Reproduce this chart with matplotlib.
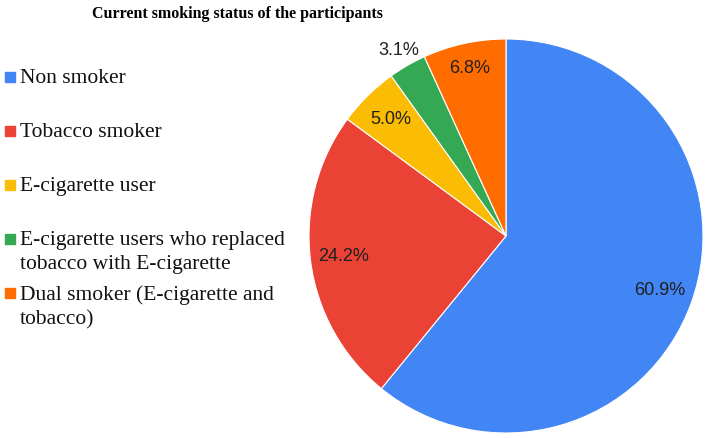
import matplotlib
matplotlib.use("Agg")
import matplotlib.pyplot as plt
import numpy as np
from matplotlib.patches import Rectangle

categories = [
    "Non smoker",
    "Tobacco smoker",
    "E-cigarette user",
    "E-cigarette users who replaced\ntobacco with E-cigarette",
    "Dual smoker (E-cigarette and\ntobacco)",
]
values = [60.9, 24.2, 5.0, 3.1, 6.8]
colors = ["#4285F4", "#EA4335", "#FBBC04", "#34A853", "#FF6D01"]
title = "Current smoking status of the participants"

W, H = 708, 438
fig = plt.figure(figsize=(W / 100, H / 100), dpi=100)

# pie axes: centre (506, 236) px, radius 197 px
cx, cy, r = 506, 236, 197
ax = fig.add_axes([(cx - r) / W, (H - cy - r) / H, 2 * r / W, 2 * r / H])
wedges, _ = ax.pie(values, colors=colors, startangle=90, counterclock=False,
                   radius=1.0, wedgeprops=dict(edgecolor="white", linewidth=0.8))
ax.set_xlim(-1, 1)
ax.set_ylim(-1, 1)
ax.set_aspect("equal")
ax.axis("off")

# percentage labels
for w, v in zip(wedges, values):
    mid = np.deg2rad((w.theta1 + w.theta2) / 2)
    if v < 4:
        d = 1.09
    elif v < 6:
        d = 0.83
    elif v < 10:
        d = 0.87
    else:
        d = 0.83
    ax.text(d * np.cos(mid), d * np.sin(mid), f"{v:.1f}%",
            ha="center", va="center", fontsize=13, color="#202020",
            family="Liberation Sans")

# title
fig.text(237 / W, 1 - 14 / H, title, ha="center", va="center",
         fontsize=11.5, fontweight="bold", family="Liberation Serif")

# legend
y0, step = 77, 54
for i, (lab, col) in enumerate(zip(categories, colors)):
    y = y0 + i * step
    fig.patches.append(Rectangle((5 / W, 1 - (y + 5) / H), 10 / W, 10 / H,
                                 transform=fig.transFigure, color=col))
    fig.text(20 / W, 1 - (y - 8) / H, lab, ha="left", va="top", fontsize=15.5,
             family="Liberation Serif", color="#111111", linespacing=1.37,
             transform=fig.transFigure)

fig.savefig("out.png", dpi=100)
